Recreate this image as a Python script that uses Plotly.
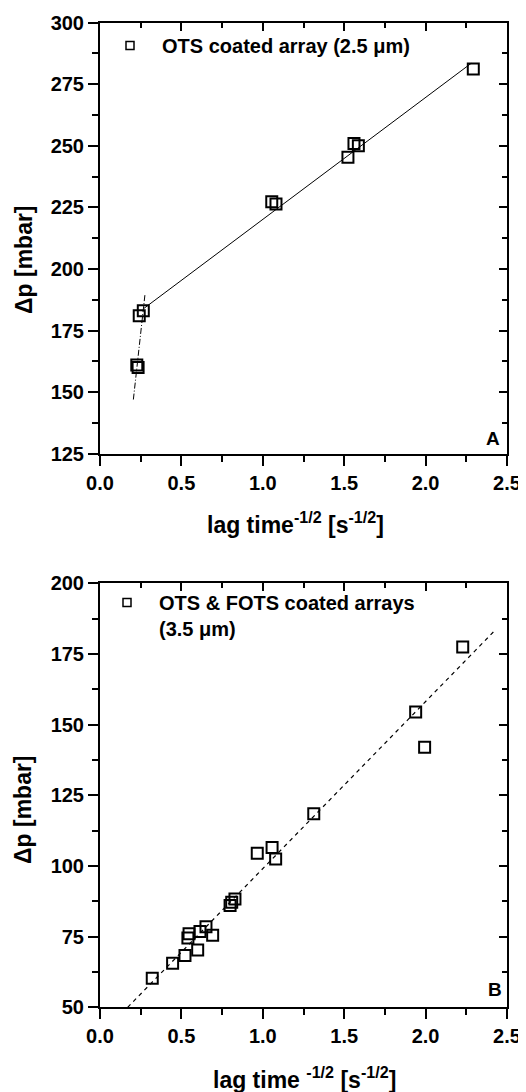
import plotly.graph_objects as go

# ---------------- Data ----------------
# Panel A: OTS coated array (2.5 um)
a_x = [0.226, 0.234, 0.241, 0.266, 1.055, 1.081, 1.523, 1.560, 1.587, 2.293]
a_y = [161.0, 160.0, 181.0, 183.0, 227.3, 226.4, 245.4, 251.0, 250.0, 281.2]
# fitted lines (end points)
a_fit1_x = [0.270, 2.280]
a_fit1_y = [184.0, 283.5]
a_fit2_x = [0.205, 0.276]
a_fit2_y = [147.0, 189.5]

# Panel B: OTS & FOTS coated arrays (3.5 um)
b_x = [0.321, 0.446, 0.522, 0.600, 0.540, 0.547, 0.614, 0.651, 0.692,
       0.799, 0.809, 0.829, 0.966, 1.057, 1.079, 1.313, 1.939, 1.994, 2.228]
b_y = [60.3, 65.6, 68.3, 70.3, 74.5, 76.0, 76.8, 78.5, 75.5,
       86.0, 87.2, 88.3, 104.5, 106.5, 102.5, 118.5, 154.5, 142.0, 177.5]
b_fit_x = [0.170, 2.420]
b_fit_y = [50.0, 183.0]

x_range = [0, 2.5]
ya_range = [125, 300]
yb_range = [50, 200]

legend_a = "OTS coated array (2.5 \u03bcm)"
legend_b = "OTS &amp; FOTS coated arrays<br>(3.5 \u03bcm)"
xtitle_a = "lag time<sup>-1/2</sup> [s<sup>-1/2</sup>]"
xtitle_b = "lag time <sup>-1/2</sup> [s<sup>-1/2</sup>]"
ytitle = "\u0394p [mbar]"

# ---------------- Layout geometry ----------------
# page body has an 8px default margin; positions below are page pixels
OFF = 8
W, H = 526 - OFF, 1092 - OFF
FONT = "Liberation Sans, Arial, sans-serif"


def px(x):
    return (x - OFF) / W


def py(y):
    return 1 - (y - OFF) / H


xdom = [px(100), px(507)]
ydomA = [py(453.7), py(22.7)]
ydomB = [py(1007.3), py(583.3)]

MS = 11
mk = dict(symbol="square-open", size=MS, color="black", line=dict(width=2, color="black"))
mk_leg = dict(symbol="square-open", size=8, color="black", line=dict(width=1.5, color="black"))

fig = go.Figure()

# Panel A (fit lines drawn on the top/right axes, which share the same ranges and domains)
fig.add_trace(go.Scatter(x=a_fit1_x, y=a_fit1_y, mode="lines", line=dict(color="black", width=1),
                         xaxis="x2", yaxis="y2", showlegend=False, hoverinfo="skip"))
fig.add_trace(go.Scatter(x=a_fit2_x, y=a_fit2_y, mode="lines",
                         line=dict(color="black", width=1, dash="6px,2px,1px,2px"),
                         xaxis="x2", yaxis="y2", showlegend=False, hoverinfo="skip"))
fig.add_trace(go.Scatter(x=a_x, y=a_y, mode="markers", marker=mk, xaxis="x", yaxis="y",
                         showlegend=False))
fig.add_trace(go.Scatter(x=[None], y=[None], mode="markers", marker=mk_leg, name=legend_a,
                         xaxis="x", yaxis="y", legend="legend"))

# Panel B
fig.add_trace(go.Scatter(x=b_fit_x, y=b_fit_y, mode="lines",
                         line=dict(color="black", width=1.2, dash="4px,4px"),
                         xaxis="x4", yaxis="y4", showlegend=False, hoverinfo="skip"))
fig.add_trace(go.Scatter(x=b_x, y=b_y, mode="markers", marker=mk, xaxis="x3", yaxis="y3",
                         showlegend=False))
fig.add_trace(go.Scatter(x=[None], y=[None], mode="markers", marker=mk_leg, name=legend_b,
                         xaxis="x3", yaxis="y3", legend="legend2"))

tickfont = dict(family=FONT, size=20, color="black", weight="bold")


def main_x(anchor):
    return dict(domain=xdom, range=x_range, anchor=anchor, dtick=0.5, tick0=0, tickformat=".1f",
                showline=True, linewidth=2, linecolor="black", mirror=True,
                ticks="outside", ticklen=10, tickwidth=2, tickcolor="black",
                minor=dict(dtick=0.25, tick0=0, ticks="outside", ticklen=6, tickwidth=2,
                           tickcolor="black"),
                showgrid=False, zeroline=False, tickfont=tickfont, automargin=False)


def main_y(anchor, rng, dom):
    return dict(domain=dom, range=rng, anchor=anchor, dtick=25, tick0=0,
                showline=True, linewidth=2, linecolor="black", mirror=True,
                ticks="outside", ticklen=10, tickwidth=2, tickcolor="black",
                minor=dict(dtick=12.5, tick0=0, ticks="outside", ticklen=6, tickwidth=2,
                           tickcolor="black"),
                showgrid=False, zeroline=False, tickfont=tickfont, automargin=False)


def top_x(anchor):
    return dict(domain=xdom, side="top", anchor=anchor, range=x_range, dtick=0.5, tick0=0,
                showticklabels=False, showline=True, linewidth=2, linecolor="black",
                ticks="inside", ticklen=8, tickwidth=2, tickcolor="black",
                minor=dict(dtick=0.25, tick0=0, ticks="inside", ticklen=5, tickwidth=2,
                           tickcolor="black"),
                showgrid=False, zeroline=False, automargin=False)


def right_y(anchor, rng, dom):
    return dict(domain=dom, side="right", anchor=anchor, range=rng, dtick=25, tick0=0,
                showticklabels=False, showline=True, linewidth=2, linecolor="black",
                ticks="inside", ticklen=8, tickwidth=2, tickcolor="black",
                minor=dict(dtick=12.5, tick0=0, ticks="inside", ticklen=5, tickwidth=2,
                           tickcolor="black"),
                showgrid=False, zeroline=False, automargin=False)


legfont = dict(family=FONT, size=20, color="black", weight="bold")


def bold(s):
    return dict(family=FONT, size=s, color="black", weight="bold")


def label(text, x, y, size, angle=0):
    return dict(text=text, x=px(x), y=py(y), xref="paper", yref="paper", showarrow=False,
                xanchor="center", yanchor="middle", textangle=angle, font=bold(size))


fig.update_layout(
    template="none",
    width=W, height=H, margin=dict(l=0, r=0, t=0, b=0, autoexpand=False),
    paper_bgcolor="white", plot_bgcolor="rgba(0,0,0,0)",
    font=dict(family=FONT, color="black"),
    xaxis=main_x("y"), yaxis=main_y("x", ya_range, ydomA),
    xaxis2=top_x("y2"), yaxis2=right_y("x2", ya_range, ydomA),
    xaxis3=main_x("y3"), yaxis3=main_y("x3", yb_range, ydomB),
    xaxis4=top_x("y4"), yaxis4=right_y("x4", yb_range, ydomB),
    legend=dict(x=px(98), y=py(26), xanchor="left", yanchor="top", font=legfont,
                bgcolor="rgba(0,0,0,0)", itemwidth=54, valign="top"),
    legend2=dict(x=px(95), y=py(583), xanchor="left", yanchor="top", font=legfont,
                 bgcolor="rgba(0,0,0,0)", itemwidth=54, valign="top"),
    showlegend=True,
    annotations=[
        label("A", 493, 438, 19),
        label("B", 495, 989, 19),
        label(xtitle_a, 295, 523, 23),
        label(xtitle_b, 304, 1078, 23),
        label(ytitle, 24, 260, 23, -90),
        label(ytitle, 23, 810, 23, -90),
    ],
)

fig.write_html("out.html")
